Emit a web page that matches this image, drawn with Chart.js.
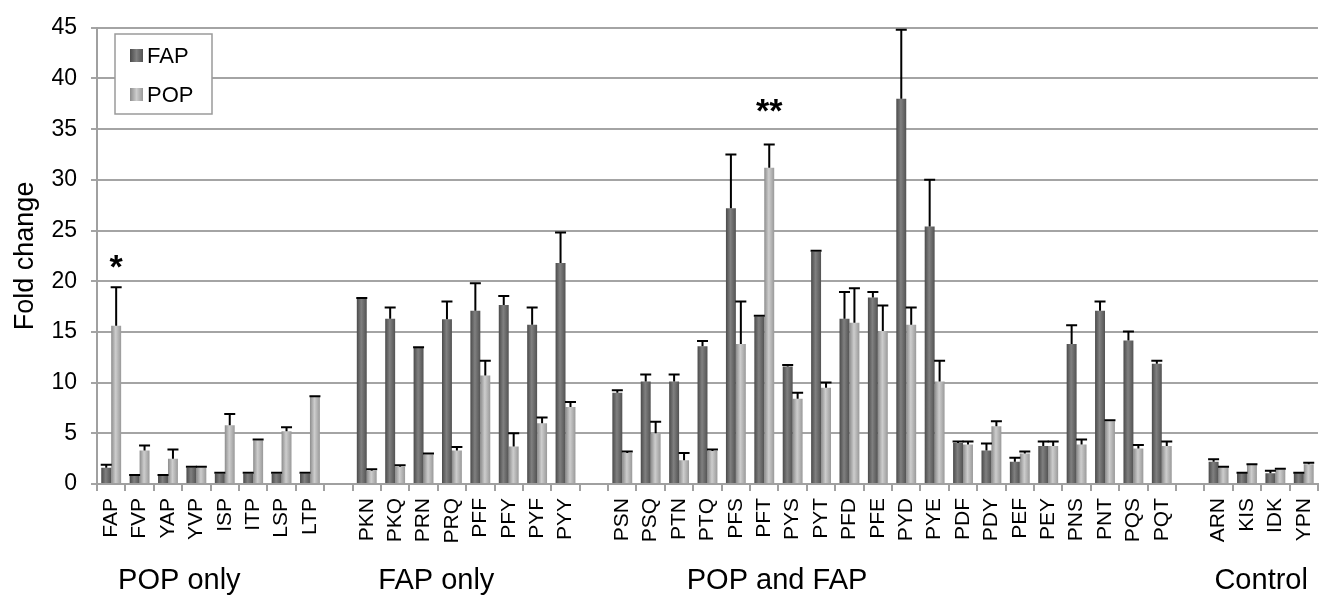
<!DOCTYPE html>
<html>
<head>
<meta charset="utf-8">
<title>Fold change</title>
<script src="https://cdn.jsdelivr.net/npm/chart.js@4.4.1/dist/chart.umd.min.js"></script>
<style>
  html, body { margin: 0; padding: 0; background: #fff; overflow: hidden; }
  #wrap { width: 1336px; height: 599px; position: relative; }
</style>
</head>
<body>
<div id="wrap"><canvas id="myChart"></canvas></div>
<script>
// peptide names, '' = spacer between groups
const labels = ['FAP','FVP','YAP','YVP','ISP','ITP','LSP','LTP', '',
  'PKN','PKQ','PRN','PRQ','PFF','PFY','PYF','PYY', '',
  'PSN','PSQ','PTN','PTQ','PFS','PFT','PYS','PYT','PFD','PFE','PYD','PYE',
  'PDF','PDY','PEF','PEY','PNS','PNT','PQS','PQT', '',
  'ARN','KIS','IDK','YPN'];

const fapValues = [1.6, 0.8, 0.8, 1.6, 1.0, 1.0, 1.0, 1.0, null,
  18.3, 16.3, 13.45, 16.25, 17.1, 17.65, 15.7, 21.8, null,
  9.0, 10.1, 10.1, 13.6, 27.2, 16.5, 11.6, 22.9, 16.3, 18.4, 38.0, 25.4,
  4.05, 3.3, 2.2, 3.75, 13.8, 17.1, 14.15, 11.85, null,
  2.2, 1.05, 1.05, 1.05];
const fapErrors = [0.3, 0.1, 0.1, 0.1, 0.1, 0.1, 0.1, 0.1, null,
  0.05, 1.1, 0.05, 1.75, 2.7, 0.9, 1.7, 3.0, null,
  0.25, 0.7, 0.7, 0.5, 5.3, 0.1, 0.15, 0.1, 2.65, 0.55, 6.8, 4.6,
  0.15, 0.7, 0.4, 0.45, 1.85, 0.9, 0.9, 0.3, null,
  0.25, 0.05, 0.25, 0.05];

const popValues = [15.6, 3.3, 2.5, 1.6, 5.8, 4.3, 5.2, 8.6, null,
  1.3, 1.7, 2.9, 3.3, 10.7, 3.7, 6.0, 7.6, null,
  3.05, 5.0, 2.35, 3.25, 13.8, 31.2, 8.4, 9.5, 15.9, 15.1, 15.7, 10.1,
  3.9, 5.7, 3.0, 3.75, 3.9, 6.2, 3.5, 3.75, null,
  1.65, 1.9, 1.4, 1.95];
const popErrors = [3.8, 0.5, 0.9, 0.1, 1.1, 0.1, 0.4, 0.05, null,
  0.15, 0.15, 0.1, 0.35, 1.45, 1.3, 0.55, 0.5, null,
  0.15, 1.15, 0.7, 0.15, 4.2, 2.3, 0.6, 0.5, 3.4, 2.5, 1.7, 2.05,
  0.3, 0.5, 0.2, 0.45, 0.5, 0.1, 0.35, 0.45, null,
  0.05, 0.05, 0.1, 0.15];

const yTicks = [0, 5, 10, 15, 20, 25, 30, 35, 40, 45];

// group captions under the axis, placed at a (fractional) category index
const groups = [
  { name: 'POP only', at: 2.4 },
  { name: 'FAP only', at: 11.45 },
  { name: 'POP and FAP', at: 23.45 },
  { name: 'Control', at: 40.5 }
];

// significance marks: dataset index, category index, y value of the text
const marks = [
  { ds: 1, idx: 0, text: '*', y: 22.0 },
  { ds: 1, idx: 23, text: '**', y: 37.4 }
];

const FONT = '"Liberation Sans", Arial, sans-serif';
const shades = [
  ['#4a4a4a', '#808080', '#525252'],
  ['#8c8c8c', '#cdcdcd', '#999999']
];

const barShading = {
  id: 'barShading',
  beforeDatasetsDraw(chart) {
    const ctx = chart.ctx;
    chart.data.datasets.forEach((ds, di) => {
      chart.getDatasetMeta(di).data.forEach(el => {
        if (!el || el.width == null || isNaN(el.x)) return;
        let g = ctx.createLinearGradient(el.x - el.width / 2, 0, el.x + el.width / 2, 0);
        g.addColorStop(0, shades[di][0]);
        g.addColorStop(0.45, shades[di][1]);
        g.addColorStop(1, shades[di][2]);
        el.options.backgroundColor = g;
      });
    });
  }
};

const errorBars = {
  id: 'errorBars',
  afterDatasetsDraw(chart) {
    const ctx = chart.ctx;
    const y = chart.scales.y;
    const errs = [fapErrors, popErrors];
    ctx.save();
    ctx.strokeStyle = '#000';
    ctx.lineWidth = 2;
    chart.data.datasets.forEach((ds, di) => {
      chart.getDatasetMeta(di).data.forEach((el, i) => {
        const v = ds.data[i];
        if (v == null) return;
        const top = y.getPixelForValue(v);
        const end = y.getPixelForValue(v + errs[di][i]);
        ctx.beginPath();
        ctx.moveTo(el.x, top);
        ctx.lineTo(el.x, end);
        ctx.moveTo(el.x - 5.5, end);
        ctx.lineTo(el.x + 5.5, end);
        ctx.stroke();
      });
    });
    // asterisks
    ctx.fillStyle = '#000';
    ctx.font = 'bold 34px ' + FONT;
    ctx.textAlign = 'center';
    ctx.textBaseline = 'middle';
    marks.forEach(m => {
      const el = chart.getDatasetMeta(m.ds).data[m.idx];
      ctx.fillText(m.text, el.x, y.getPixelForValue(m.y) + 8);
    });
    ctx.restore();
  }
};

const extras = {
  id: 'extras',
  afterDraw(chart) {
    const ctx = chart.ctx;
    const x = chart.scales.x;
    ctx.save();
    // group captions
    ctx.fillStyle = '#000';
    ctx.font = '29px ' + FONT;
    ctx.textAlign = 'center';
    ctx.textBaseline = 'middle';
    groups.forEach(g => {
      const p0 = x.getPixelForValue(Math.floor(g.at));
      const p1 = x.getPixelForValue(Math.floor(g.at) + 1);
      ctx.fillText(g.name, p0 + (p1 - p0) * (g.at - Math.floor(g.at)), 581);
    });
    // legend box
    ctx.fillStyle = '#fff';
    ctx.fillRect(115, 34, 97, 80);
    ctx.strokeStyle = '#9a9a9a';
    ctx.lineWidth = 1.5;
    ctx.strokeRect(115, 34, 97, 80);
    ctx.font = '22px ' + FONT;
    ctx.textAlign = 'left';
    chart.data.datasets.forEach((ds, di) => {
      const cy = di === 0 ? 56 : 95;
      let g = ctx.createLinearGradient(130, 0, 143, 0);
      g.addColorStop(0, shades[di][0]);
      g.addColorStop(0.5, shades[di][1]);
      g.addColorStop(1, shades[di][2]);
      ctx.fillStyle = g;
      ctx.fillRect(130, cy - 7, 13, 13);
      ctx.fillStyle = '#000';
      ctx.fillText(ds.label, 147, cy + 1);
    });
    ctx.restore();
  }
};

const ctx = document.getElementById('myChart').getContext('2d');
const chart = new Chart(ctx, {
  type: 'bar',
  data: {
    labels: labels,
    datasets: [{
      label: 'FAP',
      data: fapValues,
      backgroundColor: c => shades[0][1],
      borderWidth: 0
    }, {
      label: 'POP',
      data: popValues,
      backgroundColor: c => shades[1][1],
      borderWidth: 0
    }]
  },
  options: {
    responsive: true,
    maintainAspectRatio: false,
    animation: false,
    categoryPercentage: 0.7,
    barPercentage: 1.0,
    layout: { padding: { top: 8, right: 3, left: 0, bottom: 0 } },
    plugins: {
      legend: { display: false },
      tooltip: { enabled: false }
    },
    scales: {
      x: {
        grid: {
          display: true,
          offset: true,
          drawOnChartArea: false,
          color: '#a0a0a0',
          lineWidth: 2,
          tickLength: 7
        },
        border: { color: '#a0a0a0', width: 2 },
        ticks: {
          autoSkip: false,
          maxRotation: 90,
          minRotation: 90,
          padding: 7,
          color: '#000',
          font: { family: FONT, size: 21 }
        },
        afterFit(scale) { scale.height = 115; }
      },
      y: {
        min: 0,
        max: 45,
        afterBuildTicks(scale) { scale.ticks = yTicks.map(v => ({ value: v })); },
        grid: { color: '#a4a4a4', lineWidth: 2, tickLength: 6 },
        border: { color: '#a0a0a0', width: 2 },
        ticks: {
          padding: 14,
          color: '#000',
          font: { family: FONT, size: 23 }
        },
        title: {
          display: true,
          text: 'Fold change',
          color: '#000',
          font: { family: FONT, size: 27 },
          padding: { top: 9, bottom: 0 }
        },
        afterFit(scale) { scale.width = 97; }
      }
    }
  },
  plugins: [barShading, errorBars, extras]
});
</script>
</body>
</html>
